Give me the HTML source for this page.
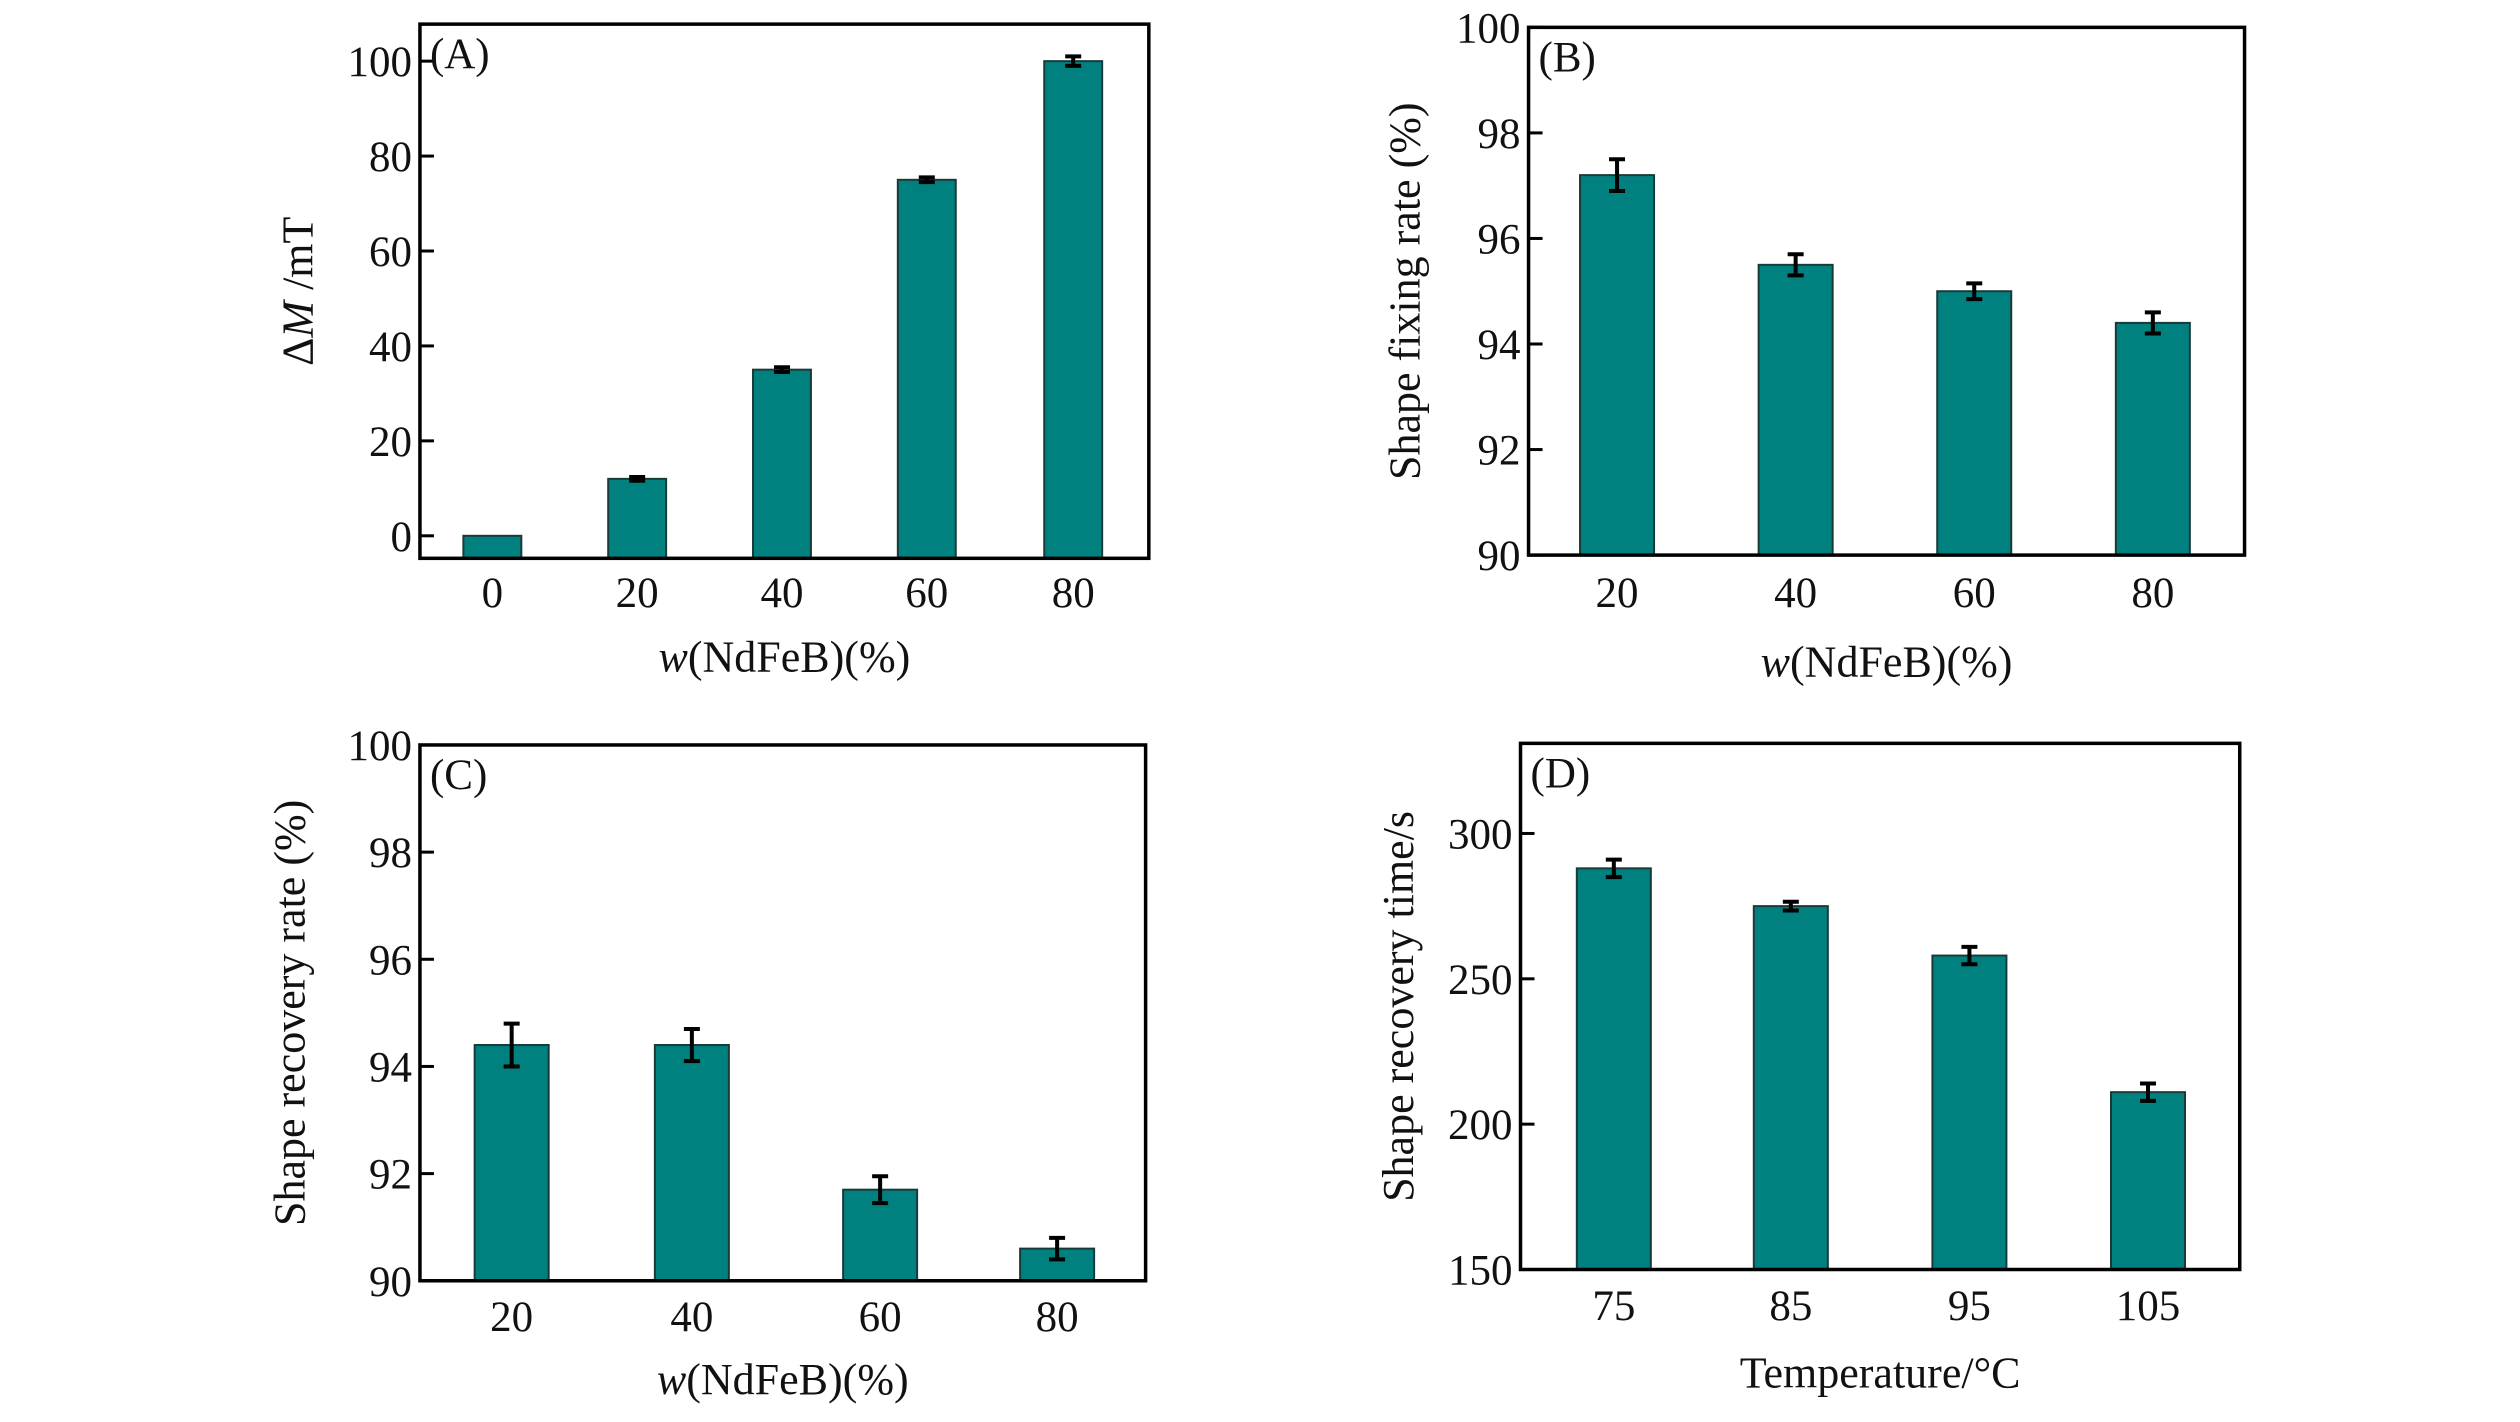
<!DOCTYPE html>
<html><head><meta charset="utf-8"><style>
html,body{margin:0;padding:0;background:#fff;}
svg text{font-family:"Liberation Serif","DejaVu Serif",serif;fill:#111;}
</style></head><body>
<svg id="fig" xmlns="http://www.w3.org/2000/svg" width="2520" height="1417" viewBox="0 0 2520 1417"></svg>
<script>
// Panel A data
const catsA = ["0","20","40","60","80"];
const valsA = [0, 12, 35, 75, 100];
const errA = [0, 0.4, 0.5, 0.5, 1];
const ticksA = [0,20,40,60,80,100];
// Panel B data
const catsB = ["20","40","60","80"];
const valsB = [97.2, 95.5, 95.0, 94.4];
const errB = [0.3, 0.2, 0.15, 0.2];
const ticksB = [90,92,94,96,98,100];
// Panel C data
const catsC = ["20","40","60","80"];
const valsC = [94.4, 94.4, 91.7, 90.6];
const errC = [0.4, 0.3, 0.25, 0.2];
const ticksC = [90,92,94,96,98,100];
// Panel D data
const catsD = ["75","85","95","105"];
const valsD = [288, 275, 258, 211];
const errD = [3, 1.5, 3, 3];
const ticksD = [150,200,250,300];

const S = 1.609;
const NS = "http://www.w3.org/2000/svg";
const svg = document.getElementById('fig');
function mk(tag, attrs, parent){
  const e = document.createElementNS(NS, tag);
  for (const k in attrs) e.setAttribute(k, attrs[k]);
  (parent||svg).appendChild(e);
  return e;
}
function panel(id, box, yRef, centers, bw, cats, vals, errs, ticks, letter, tickY, titleY, ylabX, xTitleHTML, yTitleHTML){
  const g = mk('g', {});
  
  
  const L = box[0]*S, R = box[1]*S, T = box[2]*S, B = box[3]*S;
  const v0 = yRef[0][0], p0 = yRef[0][1]*S, v1 = yRef[1][0], p1 = yRef[1][1]*S;
  const y = v => p0 + (v - v0) * (p1 - p0) / (v1 - v0);
  vals.forEach((v, i) => {
    const cx = centers[i]*S, w = bw*S;
    const top = y(v);
    const r = mk('rect', {x: cx - w/2, y: Math.min(top, B), width: w, height: Math.max(0, B - top), fill: '#018080', stroke: '#1a3a3a', 'stroke-width': 2}, g);
    
    
    if (errs[i] > 0) {
      const eg = mk('g', {stroke: '#000', 'stroke-width': 4}, g);
      
      
      const yt = y(v + errs[i]), yb = y(v - errs[i]);
      mk('line', {x1: cx, x2: cx, y1: yt, y2: yb}, eg);
      mk('line', {x1: cx - 8, x2: cx + 8, y1: yt, y2: yt}, eg);
      mk('line', {x1: cx - 8, x2: cx + 8, y1: yb, y2: yb}, eg);
    }
    const t = mk('text', {x: cx, y: tickY*S + 15, 'font-size': 43, 'text-anchor': 'middle'}, g);
    t.textContent = cats[i];
    
    
  });
  ticks.forEach(tv => {
    const ty = y(tv);
    mk('line', {x1: L, x2: L + 14, y1: ty, y2: ty, stroke: '#000', 'stroke-width': 3}, g);
    const t = mk('text', {x: L - 8, y: ty + 15, 'font-size': 43, 'text-anchor': 'end'}, g);
    t.textContent = tv;
    
    
  });
  const fr = mk('rect', {x: L, y: T, width: R - L, height: B - T, fill: 'none', stroke: '#000', 'stroke-width': 3.5}, g);
  
  
  const lt = mk('text', {x: L + 10, y: T + 44, 'font-size': 43}, g);
  lt.textContent = letter;
  
  
  const xt = mk('text', {x: (L + R)/2, y: titleY*S + 15, 'font-size': 44, 'text-anchor': 'middle'}, g);
  xt.innerHTML = xTitleHTML;
  
  
  const cy = (T + B)/2;
  const yt = mk('text', {x: 0, y: 0, 'font-size': 44, 'text-anchor': 'middle', transform: 'translate(' + (ylabX*S + 15) + ',' + cy + ') rotate(-90)'}, g);
  yt.innerHTML = yTitleHTML;
  
  
}
const wTitle = '<tspan font-style="italic">w</tspan>(NdFeB)(%)';
panel('a', [261,714,15,347], [[0,333],[100,38]], [306,396,486,576,667], 36, catsA, valsA, errA, ticksA, '(A)', 368, 408, 185, wTitle, 'Δ<tspan font-style="italic">M</tspan> /mT');
panel('b', [950,1395,17,345], [[90,345],[100,17]], [1005,1116,1227,1338], 46, catsB, valsB, errB, ticksB, '(B)', 368, 411, 873, wTitle, 'Shape fixing rate (%)');
panel('c', [261,712,463,796], [[90,796],[100,463]], [318,430,547,657], 46, catsC, valsC, errC, ticksC, '(C)', 818, 857, 180, wTitle, 'Shape recovery rate (%)');
panel('d', [945,1392,462,789], [[150,789],[300,518]], [1003,1113,1224,1335], 46, catsD, valsD, errD, ticksD, '(D)', 811, 853, 869, 'Temperature/°C', 'Shape recovery time/s');
</script>
</body></html>
